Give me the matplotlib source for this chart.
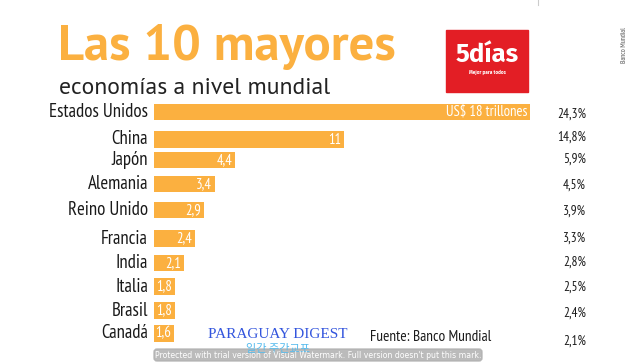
import matplotlib
matplotlib.use("Agg")
import matplotlib.pyplot as plt
from matplotlib import font_manager
from matplotlib.patches import FancyBboxPatch, Rectangle

countries = ["Estados Unidos", "China", "Japón", "Alemania", "Reino Unido",
             "Francia", "India", "Italia", "Brasil", "Canadá"]
gdp_labels = ["US$ 18 trillones", "11", "4,4", "3,4", "2,9",
              "2,4", "2,1", "1,8", "1,8", "1,6"]
# drawn bar lengths (the original is not to scale), in the same units as US=18
bar_lengths = [18.0, 9.1, 3.9, 2.9, 2.4, 1.95, 1.45, 1.0, 1.0, 0.95]
share_labels = ["24,3%", "14,8%", "5,9%", "4,5%", "3,9%",
                "3,3%", "2,8%", "2,5%", "2,4%", "2,1%"]

# layout (pixel rows of the bars, uneven as in the original)
bar_rows = [112, 139.5, 160, 184, 210, 238.5, 263, 286.5, 310.5, 333.5]
share_rows = [114, 137, 159, 185, 211, 238, 262, 287, 313, 341]

fonts = font_manager.fontManager.ttflist
names = {f.name for f in fonts}
bold_names = {f.name for f in fonts if f.weight in (700, "bold")}


def pick(*cands, bold=False):
    pool = bold_names if bold else names
    for c in cands:
        if c in pool:
            return c
    return "DejaVu Sans"


narrow = pick("PT Sans Narrow", "Fira Sans Condensed", "Roboto Condensed",
              "Open Sans Condensed", "Asap Condensed", "Archivo Narrow",
              "Barlow Semi Condensed", "Liberation Sans Narrow")
titlef = pick("PT Sans", "Fira Sans", "Open Sans", bold=True)
logof = pick("Fira Sans", "PT Sans", "Open Sans", bold=True)
serif = pick("Liberation Serif", "DejaVu Serif")

ORANGE = "#FBB040"
W, H = 636, 363
fig = plt.figure(figsize=(W / 100, H / 100), dpi=100)
fig.patch.set_facecolor("white")

# overlay axes in pixel coordinates for the text
ov = fig.add_axes([0, 0, 1, 1])
ov.set_xlim(0, W)
ov.set_ylim(H, 0)
ov.axis("off")

# bar axes: x starts at px 154, 18 units = 376 px
ax = fig.add_axes([154 / W, 0, 376 / W, 1])
ax.set_xlim(0, 18)
ax.set_ylim(H, 0)
ax.axis("off")
ax.barh(bar_rows, bar_lengths, height=16.5, color=ORANGE, left=0)

for y, lab, ln in zip(bar_rows, gdp_labels, bar_lengths):
    ax.annotate(lab, (ln, y), xytext=(-3, 0), textcoords="offset pixels",
                ha="right", va="center", color="white", fontsize=10.5,
                family=narrow)

for y, c in zip(bar_rows, countries):
    ov.text(148, y, c, ha="right", va="center", fontsize=13.5,
            family=narrow, color="#1a1a1a")

for y, s in zip(share_rows, share_labels):
    ov.text(586, y, s, ha="right", va="center", fontsize=9.5,
            family=narrow, color="#1a1a1a")

# titles
ov.text(58, 47, "Las 10 mayores", ha="left", va="center", fontsize=36.5,
        fontweight="bold", family=titlef, color=ORANGE)
ov.text(59, 88, "economías a nivel mundial", ha="left", va="center",
        fontsize=17, family=titlef, color="#222222")

# logo
ov.add_patch(Rectangle((446, 30), 82, 62, color="#E31E25"))
ov.text(487, 55, "5días", ha="center", va="center", fontsize=18.5,
        fontweight="bold", family=logof, color="white")
ov.text(487, 72, "Mejor para todos", ha="center", va="center", fontsize=3.4,
        fontweight="bold", family=logof, color="white")

ov.text(625, 45, "Banco Mundial", rotation=90, ha="center", va="center",
        fontsize=5, family=narrow, color="#555555")
ov.plot([538, 538], [0, 5], color="#cccccc", lw=0.8)

# footer
ov.text(370, 337, "Fuente: Banco Mundial", ha="left", va="center",
        fontsize=11, family=narrow, color="#1a1a1a")
ov.text(278, 334, "PARAGUAY DIGEST", ha="center", va="center", fontsize=11,
        family=serif, color="#3355dd")
ov.text(278, 349, "일간 주간교포", ha="center", va="center", fontsize=8,
        family=["Noto Sans CJK KR", "DejaVu Sans"], color="#55bbee")
ov.add_patch(FancyBboxPatch((154, 349), 328, 12,
                            boxstyle="round,pad=0,rounding_size=3",
                            color="#b0b0b0", alpha=0.85))
ov.text(318, 355, "Protected with trial version of Visual Watermark. "
        "Full version doesn't put this mark.", ha="center", va="center",
        fontsize=5.6, family="DejaVu Sans", color="white")

fig.savefig("out.png", dpi=100)
